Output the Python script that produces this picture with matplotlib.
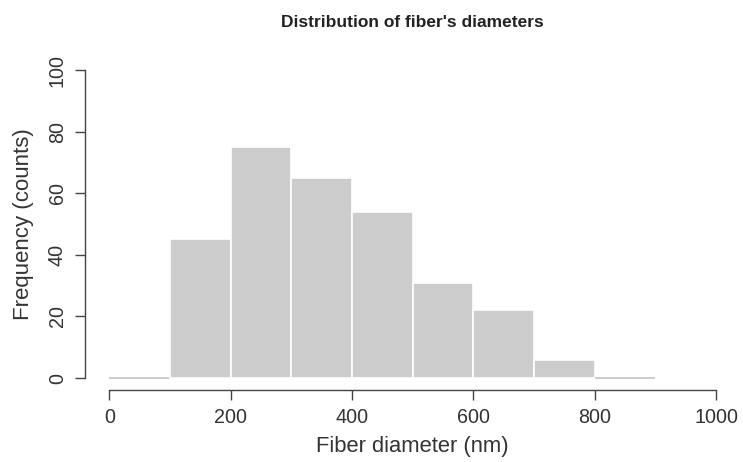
import numpy as np
import matplotlib.pyplot as plt

plt.rcParams['font.family'] = ['Liberation Sans', 'DejaVu Sans']

# histogram bins (nm) and counts
bin_edges = [0, 100, 200, 300, 400, 500, 600, 700, 800, 900]
counts = [0, 45, 75, 65, 54, 31, 22, 6, 0]
x_ticks = [0, 200, 400, 600, 800, 1000]
y_ticks = [0, 20, 40, 60, 80, 100]

fig = plt.figure(figsize=(7.43, 4.62), dpi=100)
ax = fig.add_axes([0.1144, 0.155, 0.882, 0.72])

left = np.array(bin_edges[:-1])
widths = np.diff(bin_edges)
edges = ['#c4c4c4' if c == 0 else 'white' for c in counts]
ax.bar(left, counts, width=widths, align='edge', color='#cccccc',
       edgecolor=edges, linewidth=1.2)

ax.set_xlim(-40, 1040)
ax.set_ylim(-4, 104)
ax.set_xticks(x_ticks)
ax.set_yticks(y_ticks)
ax.set_yticklabels([str(v) for v in y_ticks], rotation=90, va='center')

for s in ['top', 'right']:
    ax.spines[s].set_visible(False)
ax.spines['left'].set_bounds(0, 100)
ax.spines['bottom'].set_bounds(0, 1000)
for s in ['left', 'bottom']:
    ax.spines[s].set_color('#444444')
    ax.spines[s].set_linewidth(1.0)
ax.tick_params(length=7, width=1.0, color='#444444', labelsize=14.2,
               labelcolor='#333333', pad=6)

ax.set_xlabel('Fiber diameter (nm)', fontsize=15.8, color='#333333', labelpad=6)
ax.set_ylabel('Frequency (counts)', fontsize=16, color='#333333', labelpad=10)
ax.set_title("Distribution of fiber's diameters", fontsize=12.5,
             fontweight='bold', color='#222222', pad=22)

fig.savefig('out.png', dpi=100)
